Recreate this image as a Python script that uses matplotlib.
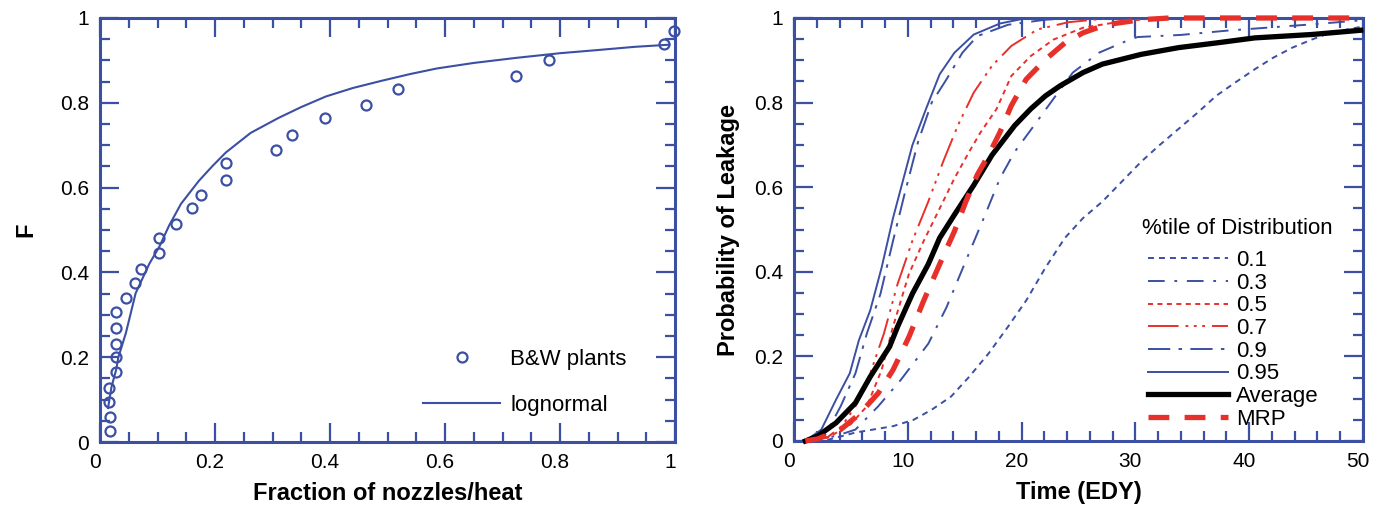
import matplotlib
matplotlib.use("Agg")
import matplotlib.pyplot as plt
from matplotlib.ticker import MultipleLocator
from matplotlib.lines import Line2D
from matplotlib.transforms import ScaledTranslation

plt.rcParams['font.family'] = ['Liberation Sans', 'DejaVu Sans']
plt.rcParams['lines.scale_dashes'] = False

BLUE = '#3b4fa3'
RED = '#e8302a'

# ---------------- left panel data ----------------
bw_x = [0.017, 0.017, 0.016, 0.016, 0.028, 0.028, 0.028, 0.028, 0.028, 0.045,
        0.061, 0.072, 0.103, 0.103, 0.132, 0.160, 0.176, 0.219, 0.219, 0.306,
        0.334, 0.392, 0.463, 0.519, 0.724, 0.780, 0.981, 0.998]
bw_F = [0.026, 0.058, 0.095, 0.127, 0.164, 0.200, 0.232, 0.269, 0.307, 0.339,
        0.376, 0.409, 0.445, 0.482, 0.514, 0.551, 0.583, 0.619, 0.657, 0.688,
        0.725, 0.763, 0.795, 0.832, 0.864, 0.901, 0.938, 0.970]

logn_x = [0.014, 0.020, 0.028, 0.032, 0.045, 0.062, 0.086, 0.103, 0.120, 0.141,
          0.172, 0.195, 0.219, 0.262, 0.310, 0.350, 0.393, 0.440, 0.490, 0.540,
          0.586, 0.650, 0.724, 0.800, 0.862, 0.930, 0.990]
logn_F = [0.080, 0.130, 0.170, 0.200, 0.257, 0.351, 0.421, 0.460, 0.510, 0.562,
          0.616, 0.650, 0.683, 0.729, 0.764, 0.790, 0.815, 0.835, 0.852, 0.868,
          0.881, 0.894, 0.906, 0.917, 0.924, 0.932, 0.937]

# ---------------- right panel data ----------------
p01_t = [1.0, 3.0, 5.4, 8.7, 10.5, 12.1, 13.8, 15.4, 17.1, 18.8, 20.4, 22.1, 23.8,
         25.4, 27.1, 28.8, 30.5, 32.1, 33.8, 35.5, 37.1, 38.8, 40.5, 42.1, 43.8,
         45.5, 47.1, 50.0]
p01_P = [0.0, 0.003, 0.020, 0.035, 0.050, 0.074, 0.105, 0.152, 0.207, 0.270, 0.332,
         0.410, 0.480, 0.527, 0.566, 0.613, 0.660, 0.699, 0.738, 0.777, 0.816,
         0.848, 0.879, 0.906, 0.930, 0.949, 0.965, 0.980]

p03_t = [1.0, 3.7, 5.4, 7.4, 9.4, 11.8, 13.4, 15.1, 16.8, 18.1, 19.4, 21.1, 22.8,
         24.5, 26.8, 29.5, 30.2, 34.0, 38.0, 42.0, 46.0, 50.0]
p03_P = [0.0, 0.012, 0.027, 0.082, 0.145, 0.230, 0.316, 0.426, 0.535, 0.621, 0.684,
         0.746, 0.809, 0.871, 0.918, 0.949, 0.955, 0.960, 0.970, 0.978, 0.986, 0.995]

p05_t = [1.0, 3.0, 5.0, 6.4, 7.7, 8.7, 10.1, 11.4, 13.1, 14.1, 15.4, 16.4, 17.8,
         19.1, 20.8, 22.8, 25.4, 28.8, 32.0, 50.0]
p05_P = [0.0, 0.008, 0.040, 0.082, 0.168, 0.270, 0.395, 0.473, 0.566, 0.621, 0.684,
         0.730, 0.785, 0.863, 0.910, 0.949, 0.977, 0.992, 1.0, 1.0]

p07_t = [1.0, 3.0, 4.2, 5.4, 6.7, 7.9, 9.1, 10.4, 11.8, 13.1, 14.4, 15.8, 17.4,
         19.1, 21.4, 24.1, 27.1, 30.0, 50.0]
p07_P = [0.0, 0.010, 0.035, 0.082, 0.160, 0.254, 0.371, 0.473, 0.566, 0.660, 0.746,
         0.824, 0.887, 0.934, 0.973, 0.990, 0.998, 1.0, 1.0]

p09_t = [1.0, 2.7, 4.1, 5.4, 6.4, 7.6, 8.7, 9.7, 10.9, 12.1, 13.4, 14.8, 16.1,
         18.8, 22.1, 25.0, 50.0]
p09_P = [0.0, 0.012, 0.082, 0.160, 0.254, 0.348, 0.473, 0.582, 0.707, 0.800, 0.855,
         0.918, 0.957, 0.984, 0.996, 1.0, 1.0]

p095_t = [1.0, 2.4, 3.7, 4.9, 5.7, 6.7, 7.7, 8.7, 9.4, 10.4, 11.6, 12.8, 14.1,
          15.8, 18.1, 20.1, 22.0, 50.0]
p095_P = [0.0, 0.027, 0.098, 0.160, 0.238, 0.309, 0.410, 0.527, 0.598, 0.699, 0.785,
          0.867, 0.918, 0.961, 0.987, 0.998, 1.0, 1.0]

avg_t = [1.0, 2.1, 3.7, 5.4, 6.7, 8.4, 9.1, 10.4, 11.8, 12.8, 14.1, 15.8, 17.4,
         19.4, 20.8, 22.1, 23.4, 25.4, 27.1, 30.5, 33.8, 37.1, 40.5, 45.5, 49.8]
avg_P = [0.0, 0.012, 0.043, 0.090, 0.152, 0.223, 0.270, 0.348, 0.418, 0.480, 0.535,
         0.605, 0.676, 0.746, 0.785, 0.816, 0.840, 0.871, 0.891, 0.914, 0.930,
         0.941, 0.953, 0.961, 0.971]

mrp_t = [1.0, 2.1, 4.1, 5.7, 7.4, 8.7, 10.1, 11.4, 12.8, 14.1, 15.1, 16.1, 17.1,
         18.1, 19.1, 20.4, 22.1, 23.8, 25.4, 27.4, 30.5, 33.0, 50.0]
mrp_P = [0.0, 0.005, 0.027, 0.0625, 0.113, 0.168, 0.246, 0.332, 0.418, 0.496, 0.566,
         0.629, 0.676, 0.730, 0.793, 0.855, 0.902, 0.941, 0.965, 0.984, 0.996, 1.0, 1.0]

series_labels = ['0.1', '0.3', '0.5', '0.7', '0.9', '0.95', 'Average', 'MRP']
legend_title = '%tile of Distribution'

W, H = 1378, 508
fig = plt.figure(figsize=(W / 100, H / 100), dpi=100)
axL = fig.add_axes([100 / W, 66 / H, 575 / W, 424 / H])
axR = fig.add_axes([794 / W, 67 / H, 569 / W, 423 / H])

TICKFS = 15
LABFS = 17
LEGFS = 16

fmt = plt.FuncFormatter(lambda v, p: ('%g' % round(v, 2)))


def style(ax):
    for s in ax.spines.values():
        s.set_color(BLUE)
        s.set_linewidth(2.2)
    ax.tick_params(which='both', direction='in', top=True, right=True,
                   color=BLUE, width=1.6, labelsize=TICKFS, pad=8, labelcolor='black')
    ax.tick_params(which='major', length=14)
    ax.tick_params(which='minor', length=7.2)


def shift_xticklabels(ax, dx_px):
    off = ScaledTranslation(dx_px / 100, 0, fig.dpi_scale_trans)
    for lab in ax.get_xticklabels():
        lab.set_transform(lab.get_transform() + off)


# ---- left ----
style(axL)
axL.plot(logn_x, logn_F, color=BLUE, lw=1.5, zorder=3)
axL.plot(bw_x, bw_F, ls='none', marker='o', ms=7.2, mfc='none', mec=BLUE, mew=1.6,
         zorder=4, clip_on=False)
axL.set_xlim(0, 1)
axL.set_ylim(0, 1)
axL.xaxis.set_major_locator(MultipleLocator(0.2))
axL.xaxis.set_minor_locator(MultipleLocator(0.05))
axL.yaxis.set_major_locator(MultipleLocator(0.2))
axL.yaxis.set_minor_locator(MultipleLocator(0.05))
axL.xaxis.set_major_formatter(fmt)
axL.yaxis.set_major_formatter(fmt)
axL.set_xlabel('Fraction of nozzles/heat', fontsize=LABFS, fontweight='bold', labelpad=7)
axL.set_ylabel('F', fontsize=LABFS, fontweight='bold', labelpad=16)
hL = [Line2D([], [], ls='none', marker='o', ms=7.2, mfc='none', mec=BLUE, mew=1.6),
      Line2D([], [], color=BLUE, lw=1.5)]
fig.legend(hL, ['B&W plants', 'lognormal'], loc='upper left',
           bbox_to_anchor=(423 / W, (H - 349) / H), frameon=False, fontsize=LEGFS,
           handlelength=3.47, handletextpad=0.45, labelspacing=1.11,
           borderpad=0, borderaxespad=0)
shift_xticklabels(axL, -5)

# ---- right ----
style(axR)
thin = 1.4
ls01 = (0, (4.3, 3.6))
ls03 = (0, (12, 7, 2, 7))
ls05 = (0, (3.6, 3.2))
ls07 = (0, (22, 5, 2, 4, 2, 4, 2, 5))
ls09 = (0, (16, 6, 2.5, 6))
lsmrp = (0, (15, 11))

specs = [
    (p01_t, p01_P, BLUE, thin, ls01),
    (p03_t, p03_P, BLUE, thin, ls03),
    (p05_t, p05_P, RED, thin, ls05),
    (p07_t, p07_P, RED, thin, ls07),
    (p09_t, p09_P, BLUE, thin, ls09),
    (p095_t, p095_P, BLUE, thin, '-'),
    (avg_t, avg_P, 'black', 3.8, '-'),
    (mrp_t, mrp_P, RED, 3.8, lsmrp),
]
handles = []
for (t, p, c, lw, ls), lab in zip(specs, series_labels):
    ln, = axR.plot(t, p, color=c, lw=lw, ls=ls, label=lab, zorder=3, clip_on=False)
    handles.append(ln)

axR.set_xlim(0, 50)
axR.set_ylim(0, 1)
axR.xaxis.set_major_locator(MultipleLocator(10))
axR.xaxis.set_minor_locator(MultipleLocator(2))
axR.yaxis.set_major_locator(MultipleLocator(0.2))
axR.yaxis.set_minor_locator(MultipleLocator(0.05))
axR.yaxis.set_major_formatter(fmt)
axR.set_xlabel('Time (EDY)', fontsize=LABFS, fontweight='bold', labelpad=7)
axR.set_ylabel('Probability of Leakage', fontsize=LABFS, fontweight='bold', labelpad=10)
fig.text(1142 / W, (H - 228) / H, legend_title, fontsize=LEGFS, ha='left', va='center')
fig.legend(handles, series_labels, loc='upper left',
           bbox_to_anchor=(1148 / W, (H - 250) / H), frameon=False, fontsize=LEGFS,
           handlelength=3.6, handletextpad=0.36, labelspacing=0.075,
           borderpad=0, borderaxespad=0)
shift_xticklabels(axR, -5)

fig.savefig('out.png', dpi=100)
